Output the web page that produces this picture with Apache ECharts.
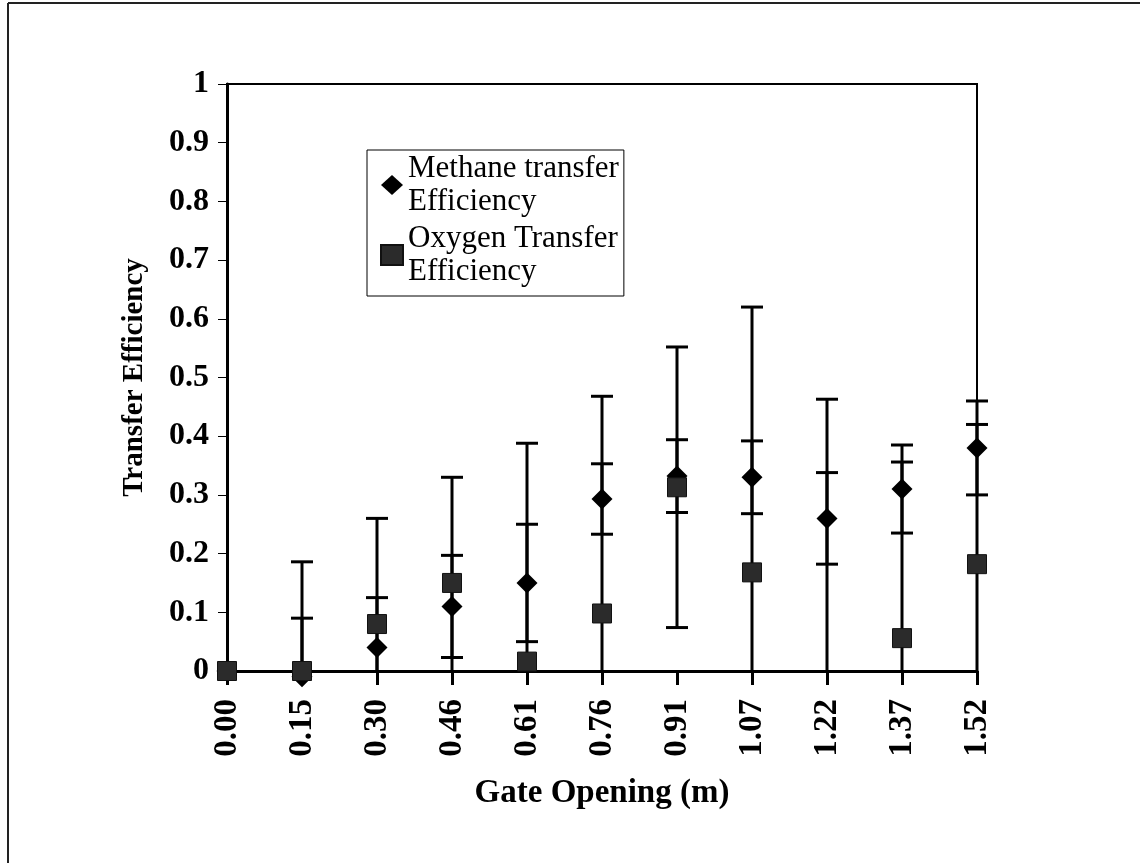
<!DOCTYPE html>
<html>
<head>
<meta charset="utf-8">
<script src="https://cdn.jsdelivr.net/npm/echarts@6/dist/echarts.min.js"></script>
<style>
html,body{margin:0;padding:0;background:#fff;}
#chart{width:1140px;height:863px;}
</style>
</head>
<body>
<div id="chart"></div>
<script>
const categories = ['0.00','0.15','0.30','0.46','0.61','0.76','0.91','1.07','1.22','1.37','1.52'];
const methane    = [0, -0.01, 0.04, 0.11, 0.15, 0.293, 0.332, 0.33, 0.26, 0.31, 0.38];
const methaneErr = [0, 0.10, 0.085, 0.087, 0.10, 0.06, 0.062, 0.062, 0.078, 0.075, 0.08];
const oxygen     = [0, 0, 0.08, 0.15, 0.016, 0.098, 0.313, 0.168, -0.05, 0.056, 0.182];
const oxygenErr  = [0, 0.186, 0.18, 0.18, 0.372, 0.37, 0.239, 0.452, 0.513, 0.30, 0.238];
const yTicks = {min: 0, max: 1, interval: 0.1};

const serif = '"Liberation Serif","Times New Roman",serif';
const chart = echarts.init(document.getElementById('chart'));

function errData(vals, errs) {
  return vals.map((v, i) => [i, v - errs[i], v + errs[i]]).filter(d => d[2] > d[1]);
}
function errRender(params, api) {
  const cs = params.coordSys;
  const x = api.value(0);
  const lo = api.coord([x, api.value(1)]);
  const hi = api.coord([x, api.value(2)]);
  const bottom = cs.y + cs.height;
  const yLo = Math.min(lo[1], bottom);
  const yHi = hi[1];
  const cap = 11;
  const st = {stroke: '#000', lineWidth: 3};
  const children = [
    {type: 'line', shape: {x1: hi[0], y1: yHi, x2: hi[0], y2: yLo}, style: st},
    {type: 'line', shape: {x1: hi[0] - cap, y1: yHi, x2: hi[0] + cap, y2: yHi}, style: st}
  ];
  if (lo[1] <= bottom) {
    children.push({type: 'line', shape: {x1: lo[0] - cap, y1: lo[1], x2: lo[0] + cap, y2: lo[1]}, style: st});
  }
  return {type: 'group', children: children};
}

const legendNames = {
  'Methane transfer Efficiency': 'Methane transfer\nEfficiency',
  'Oxygen Transfer Efficiency': 'Oxygen Transfer\nEfficiency'
};

chart.setOption({
  animation: false,
  backgroundColor: '#fff',
  grid: {left: 227, top: 84, right: 163, bottom: 192, show: true, borderColor: '#000', borderWidth: 2},
  xAxis: {
    type: 'category',
    data: categories,
    boundaryGap: false,
    name: 'Gate Opening (m)',
    nameLocation: 'middle',
    nameGap: 106,
    nameTextStyle: {fontFamily: serif, fontWeight: 'bold', fontSize: 33, color: '#000'},
    axisLine: {onZero: false, lineStyle: {color: '#000', width: 3}},
    axisTick: {length: 14, lineStyle: {color: '#000', width: 3}},
    axisLabel: {rotate: 90, margin: 28, fontFamily: serif, fontWeight: 'bold', fontSize: 33, color: '#000'},
    splitLine: {show: false}
  },
  yAxis: {
    type: 'value',
    min: yTicks.min, max: yTicks.max, interval: yTicks.interval,
    name: 'Transfer Efficiency',
    nameLocation: 'middle',
    nameGap: 78,
    nameTextStyle: {fontFamily: serif, fontWeight: 'bold', fontSize: 29, color: '#000'},
    axisLine: {show: true, lineStyle: {color: '#000', width: 3}},
    axisTick: {show: true, length: 9, lineStyle: {color: '#000', width: 1}},
    axisLabel: {margin: 18, fontFamily: serif, fontWeight: 'bold', fontSize: 32, color: '#000'},
    splitLine: {show: false}
  },
  legend: {
    orient: 'vertical',
    left: 367, top: 150,
    backgroundColor: '#fff',
    borderColor: '#000', borderWidth: 1,
    padding: [2, 5, 8, 13],
    itemGap: 4,
    itemWidth: 22, itemHeight: 20,
    formatter: name => legendNames[name] || name,
    textStyle: {fontFamily: serif, fontSize: 31, color: '#000', lineHeight: 33},
    data: [
      {name: 'Methane transfer Efficiency', icon: 'diamond'},
      {name: 'Oxygen Transfer Efficiency', icon: 'rect', itemStyle: {color: '#2b2b2b'}}
    ]
  },
  series: [
    {type: 'custom', name: 'methaneErr', renderItem: errRender, data: errData(methane, methaneErr), z: 2, silent: true},
    {type: 'custom', name: 'oxygenErr', renderItem: errRender, data: errData(oxygen, oxygenErr), z: 2, silent: true},
    {
      type: 'scatter', name: 'Methane transfer Efficiency',
      data: methane.map((v, i) => [i, v]),
      symbol: 'diamond', symbolSize: [21, 21],
      itemStyle: {color: '#000', opacity: 1},
      clip: false, z: 3
    },
    {
      type: 'scatter', name: 'Oxygen Transfer Efficiency',
      data: oxygen.map((v, i) => [i, v]),
      symbol: 'rect', symbolSize: [19, 19],
      itemStyle: {color: '#2b2b2b', borderColor: '#111', borderWidth: 1, opacity: 1},
      clip: true, z: 4
    }
  ],
  graphic: [
    {type: 'line', shape: {x1: 8, y1: 3, x2: 1140, y2: 3}, style: {stroke: '#222', lineWidth: 2}},
    {type: 'line', shape: {x1: 8, y1: 3, x2: 8, y2: 863}, style: {stroke: '#222', lineWidth: 2}}
  ]
});
</script>
</body>
</html>
